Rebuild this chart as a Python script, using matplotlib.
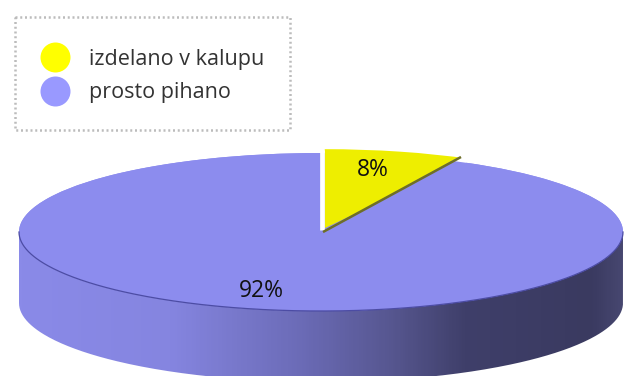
import numpy as np
import matplotlib
matplotlib.use('Agg')
import matplotlib.pyplot as plt
from matplotlib.colors import LinearSegmentedColormap
from matplotlib.lines import Line2D
from matplotlib.patches import Ellipse, PathPatch, Polygon
from matplotlib.path import Path

labels = ['izdelano v kalupu', 'prosto pihano']
values = [8, 92]
pie_colors = ['#eeee00', '#8c8cee']
legend_colors = ['#ffff00', '#9999ff']

W, H = 629, 376
CX, CY, RX, RY = 321, 232, 302, 79
DEPTH = 71 / RY

plt.rcParams['font.family'] = ['Open Sans', 'DejaVu Sans']

fig = plt.figure(figsize=(W / 100, H / 100), dpi=100)
ax = fig.add_axes([0, 0, 1, 1])


# pixel position in the reference -> pie coordinates
def px(x, y):
    return (x - CX) / RX, (CY - y) / RY


# side of the disc, shaded from left to right
t = np.linspace(np.pi, 2 * np.pi, 300)
side_x = np.concatenate([np.cos(t), np.cos(t[::-1])])
side_y = np.concatenate([np.sin(t), np.sin(t[::-1]) - DEPTH])
side_cmap = LinearSegmentedColormap.from_list('side', [
    (0.00, '#8a8ae8'), (0.25, '#8585e0'), (0.46, '#6c6cb8'),
    (0.62, '#56568f'), (0.74, '#3f3f6a'), (0.95, '#3a3a60'), (1.00, '#46466f')])
img = ax.imshow(np.linspace(0, 1, 300).reshape(1, -1), cmap=side_cmap, aspect='auto',
                extent=(-1, 1, -1 - DEPTH, 0), zorder=1)
clip = PathPatch(Path(np.column_stack([side_x, side_y])), fc='none', ec='none', transform=ax.transData)
ax.add_patch(clip)
img.set_clip_path(clip)

# blue base so nothing shows through under the pulled out slice
ax.add_patch(Ellipse((0, 0), 2, 2, fc=pie_colors[1], ec='none', zorder=1.5))

wedges, _ = ax.pie(values, colors=pie_colors, startangle=90, counterclock=False,
                   explode=[0.05, 0], radius=1, center=(0, 0), wedgeprops={'linewidth': 0})
for w in wedges:
    w.set_zorder(2)
ax.set_aspect('auto')

# trim the yellow slice to the edge seen in the picture (pie turns clipping off)
trim = Polygon([px(322, 232), px(461, 156), px(461, 100), px(322, 100)], transform=ax.transData,
               fc='none', ec='none')
ax.add_patch(trim)
wedges[0].set_clip_on(True)
wedges[0].set_clip_path(trim)

# front rim of the top face
ax.plot(np.cos(t), np.sin(t), color='#4c4ca4', lw=0.9, zorder=3)

# white gap and dark lower edge beside the yellow slice
gap_x, gap_y = zip(px(322.5, 230), px(322.5, 150))
ax.plot(gap_x, gap_y, color='white', lw=3.4, solid_capstyle='butt', zorder=3)
edge_x, edge_y = zip(px(323, 232), px(461, 157))
ax.plot(edge_x, edge_y, color='#6e6e28', lw=1.8, solid_capstyle='butt', zorder=3)

for v, pos in zip(values, [(373, 170), (261, 291)]):
    x, y = px(*pos)
    ax.text(x, y, f'{v}%', ha='center', va='center', fontsize=16.5, color='#111111', zorder=4)

ax.set_xlim(*[px(x, 0)[0] for x in (0, W)])
ax.set_ylim(px(0, H)[1], px(0, 0)[1])
ax.axis('off')

# dotted legend box
box = Polygon([px(15, 17), px(290, 17), px(290, 130), px(15, 130)], closed=True, fc='white',
              ec='#bcbcbc', lw=1.8, ls=(0, (0.8, 1.1)), zorder=5)
ax.add_patch(box)

handles = [Line2D([], [], ls='none', marker='o', ms=21.6, mfc=c, mec='none') for c in legend_colors]
leg = ax.legend(handles, labels, loc='upper left', bbox_to_anchor=(45 / W, 1 - 49 / H),
                fontsize=15.5, labelcolor='#333333', frameon=False,
                borderaxespad=0, borderpad=0, labelspacing=0.56, handletextpad=1.1, handlelength=0.93)
leg.set_zorder(6)

fig.savefig('out.png', dpi=100)
